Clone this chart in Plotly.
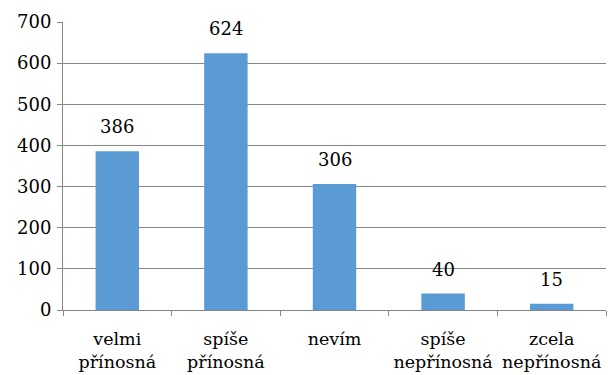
import plotly.graph_objects as go

categories = ["velmi<br>přínosná", "spíše<br>přínosná", "nevím", "spíše<br>nepřínosná", "zcela<br>nepřínosná"]
counts = [386, 624, 306, 40, 15]
y_ticks = [0, 100, 200, 300, 400, 500, 600, 700]

font_family = "DejaVu Serif"
axis_grey = "#868686"

fig = go.Figure(
    go.Bar(
        x=categories,
        y=counts,
        width=0.4,
        marker=dict(color="#5B9BD5", line=dict(width=0)),
    )
)

# value labels floating above each bar
for cat, val in zip(categories, counts):
    fig.add_annotation(
        x=cat,
        y=val,
        text=str(val),
        showarrow=False,
        yanchor="bottom",
        yshift=12,
        font=dict(family=font_family, size=18, color="#000000"),
    )

fig.update_layout(
    width=608,
    height=375,
    margin=dict(l=63, r=2, t=22, b=65, autoexpand=False),
    paper_bgcolor="white",
    plot_bgcolor="white",
    showlegend=False,
    font=dict(family=font_family, size=17.5, color="#000000"),
)

fig.update_xaxes(
    showline=True,
    linecolor=axis_grey,
    linewidth=1,
    ticks="outside",
    tickson="boundaries",
    ticklen=5,
    tickcolor=axis_grey,
    showgrid=False,
    tickangle=0,
    automargin=False,
    ticklabelstandoff=13,
    tickfont=dict(family=font_family, size=17.5),
)

fig.update_yaxes(
    range=[0, 700],
    tickvals=y_ticks,
    showline=True,
    linecolor=axis_grey,
    linewidth=1,
    ticks="outside",
    ticklen=5,
    tickcolor=axis_grey,
    showgrid=True,
    gridcolor=axis_grey,
    gridwidth=1,
    zeroline=False,
    automargin=False,
    ticklabelstandoff=2,
    tickfont=dict(family=font_family, size=18),
)

fig.write_html("out.html")
